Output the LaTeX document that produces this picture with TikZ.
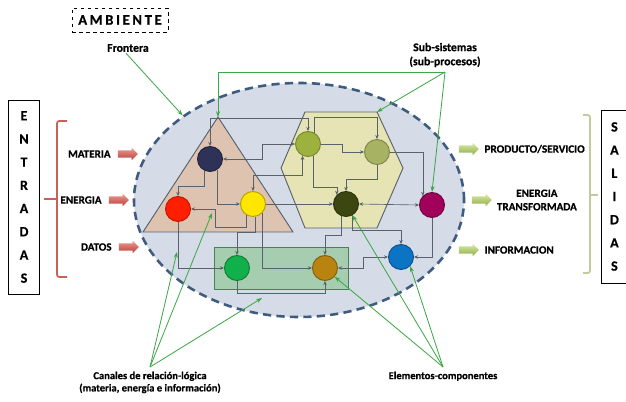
\documentclass[tikz,border=0pt]{standalone}
\usepackage{fontspec}
\setmainfont{Carlito}[BoldFeatures={FakeBold=0.6}]
\usetikzlibrary{positioning,shapes.geometric,shapes.arrows,arrows.meta}

\definecolor{wiregray}{HTML}{58626D}
\definecolor{bndblue}{HTML}{3F5C80}
\definecolor{sysfill}{HTML}{D5DCE7}
\definecolor{trifill}{HTML}{DEC3B0}
\definecolor{hexfill}{HTML}{E6E4B4}
\definecolor{boxfill}{HTML}{A6CDB0}
\definecolor{ptrgreen}{HTML}{3DA746}
\definecolor{bracered}{HTML}{C9605A}
\definecolor{braceolive}{HTML}{C5C99C}
\definecolor{inlight}{HTML}{EC9A93}
\definecolor{indark}{HTML}{B9403A}
\definecolor{outlight}{HTML}{DCE8AA}
\definecolor{outdark}{HTML}{8EAE44}
% component colours
\definecolor{cnavy}{HTML}{2E3258}
\definecolor{cred}{HTML}{FF1E00}
\definecolor{cyellow}{HTML}{FFE600}
\definecolor{clime}{HTML}{9CB13E}
\definecolor{csage}{HTML}{A7B262}
\definecolor{colive}{HTML}{3C4611}
\definecolor{cmagenta}{HTML}{A1005B}
\definecolor{cblue}{HTML}{0B74C4}
\definecolor{cgreen}{HTML}{10B04A}
\definecolor{cbrown}{HTML}{B8840F}

\begin{document}
\begin{tikzpicture}[x=0.03cm,y=-0.03cm,>={Stealth[length=3.5pt,width=3pt]},
	elem/.style={circle,draw,minimum size=0.75cm,inner sep=0pt,line width=0.8pt},
	wire/.style={draw=wiregray,line width=0.55pt},
	pointer/.style={draw=ptrgreen,line width=0.7pt,-{Stealth[length=5pt,width=3.5pt]}},
	lbl/.style={font=\bfseries\fontsize{9}{10.5}\selectfont,align=center,inner sep=1pt},
	inlbl/.style={font=\bfseries\fontsize{9.5}{11.5}\selectfont,align=center,inner sep=1pt},
	outlbl/.style={font=\bfseries\fontsize{9.5}{11.5}\selectfont,align=center,inner sep=1pt},
	biglbl/.style={font=\bfseries\fontsize{10}{12}\selectfont,align=center,inner sep=1pt},
	letters/.style={draw,line width=0.7pt,font=\bfseries\fontsize{12}{19.8}\selectfont,align=center},
	inarrow/.style={single arrow,single arrow head extend=0.075cm,minimum height=0.6cm,minimum width=0.36cm,inner sep=0.105cm,top color=inlight,bottom color=indark},
	outarrow/.style={single arrow,single arrow head extend=0.075cm,minimum height=0.6cm,minimum width=0.36cm,inner sep=0.105cm,top color=outlight,bottom color=outdark}]
	\useasboundingbox (0,0) rectangle (626,402);
	\clip (0,0) rectangle (626,402);

	% environment and system boundary
	\node[draw,dashed,line width=0.6pt,minimum width=2.88cm,minimum height=0.72cm,font=\bfseries\fontsize{12.5}{14}\selectfont\addfontfeature{LetterSpace=18}] (ambiente) at (120,20) {AMBIENTE};
	\node[biglbl] (frontera) at (128,48) {Frontera};
	\node[ellipse,fill=sysfill,draw=bndblue,line width=2.2pt,dash pattern=on 7pt off 4.5pt,minimum width=9.9cm,minimum height=7.02cm,inner sep=0pt] (sys) at (299,200) {};

	% sub-systems
	\coordinate (apex) at (218,117);
	\coordinate (hexTR) at (377,112);
	\filldraw[fill=trifill,draw=wiregray,line width=0.8pt] (apex) -- (143,232) -- (293,232) -- cycle;
	\filldraw[fill=hexfill,draw=wiregray,line width=0.8pt] (305,112) -- (hexTR) -- (403,168) -- (377,228) -- (305,228) -- (281,168) -- cycle;
	\filldraw[fill=boxfill,draw=wiregray!80!green,line width=0.8pt] (214,247) rectangle (348,289);

	% elements
	\node[elem,fill=cnavy,draw=cnavy!70!black] (n_navy) at (210,159) {};
	\node[elem,fill=cred,draw=cred!75!black] (n_red) at (178,209) {};
	\node[elem,fill=cyellow,draw=cyellow!70!black] (n_yel) at (253,204) {};
	\node[elem,fill=clime,draw=clime!75!black] (n_lg1) at (308,144) {};
	\node[elem,fill=csage,draw=csage!75!black] (n_lg2) at (377,152) {};
	\node[elem,fill=colive,draw=colive!70!black] (n_olv) at (346,204) {};
	\node[elem,fill=cmagenta,draw=cmagenta!70!black] (n_mag) at (432,205) {};
	\node[elem,fill=cblue,draw=cblue!70!black] (n_blu) at (401,257) {};
	\node[elem,fill=cgreen,draw=cgreen!70!black] (n_grn) at (237,268) {};
	\node[elem,fill=cbrown,draw=cbrown!70!black] (n_brn) at (325,268) {};

	% channels
	\draw[wire,<->] (n_lg1.north) |- (210,118) -- (n_navy.north);
	\draw[wire,<->] (n_lg1.west) -- (262,144) |- (n_navy.east);
	\draw[wire,->] (n_navy.-114) -- ++(0,15) -| (n_red.north);
	\draw[wire,->] (n_navy.-56) |- (n_yel.west);
	\draw[wire,->] (n_yel.-120) -- ++(0,12) -| (215,209) -- (n_red.east);
	\draw[wire,<->] (n_lg1.-115) -- ++(0,20) -| (n_yel.north);
	\draw[wire,->] (n_yel.-80) -- ++(0,16) -| (n_grn.north);
	\draw[wire,->] (n_yel.-45) |- (n_brn.west);
	\draw[wire,->] (n_red.south) |- (n_grn.west);
	\draw[wire,->] (n_grn.south) -- ++(0,12) -| (n_brn.south);
	\draw[wire,->] (n_lg1.60) -- ++(0,-15) -| (n_lg2.north);
	\draw[wire,->] (n_lg1.east) -- (342,144) |- (n_lg2.west);
	\draw[wire,->] (n_lg1.-65) -- ++(0,32) -| (n_olv.north west);
	\draw[wire,->] (n_lg2.south) -- ++(0,14) -| (n_olv.north);
	\draw[wire,->] (n_yel.east) -- (n_olv.west);
	\draw[wire,<->] (n_olv.east) -- (n_mag.west);
	\draw[wire,->] (n_lg2.east) -| (n_mag.north west);
	\draw[wire,->] (n_olv.-110) -- ++(0,19) -| (n_brn.north);
	\draw[wire,->] (n_olv.-60) -- ++(0,15) -| (n_blu.north);
	\draw[wire,<->] (n_brn.east) -- (363,268) |- (n_blu.west);
	\draw[wire,->] (n_mag.south) |- (n_blu.east);

	% inputs
	\node[letters,minimum width=0.93cm,minimum height=5.82cm] (entradas) at (24,197) {E\\N\\T\\R\\A\\D\\A\\S};
	\draw[bracered,line width=1.5pt,rounded corners=2pt] (67,121) -- (57,121) -- (57,277) -- (67,277);
	\draw[bracered,line width=1.5pt] (57,199) -- (44,199);
	\node[inlbl,anchor=east] (materia) at (112,154) {MATERIA};
	\node[inlbl,anchor=east] (energia) at (103,200) {ENERGIA};
	\node[inlbl,anchor=east] (datos) at (113,247) {DATOS};
	\node[inarrow,right=0.17cm of materia] (a_mat) {};
	\node[inarrow,right=0.17cm of energia] (a_ene) {};
	\node[inarrow,right=0.17cm of datos] (a_dat) {};

	% outputs
	\node[outarrow] (a_prod) at (467,149) {};
	\node[outarrow] (a_entr) at (480,200) {};
	\node[outarrow] (a_info) at (467,250) {};
	\node[outlbl,right=0.12cm of a_prod] (producto) {PRODUCTO/SERVICIO};
	\node[outlbl,right=0.1cm of a_entr] (energiat) {ENERGIA\\TRANSFORMADA};
	\node[outlbl,right=0.12cm of a_info] (informacion) {INFORMACION};
	\draw[braceolive,line width=1.5pt,rounded corners=2pt] (583,115) -- (590,115) -- (590,273) -- (583,273);
	\draw[braceolive,line width=1.5pt] (590,195) -- (598,195);
	\node[letters,anchor=west,minimum width=0.78cm,minimum height=5.19cm] (salidas) at (601,196.5) {S\\A\\L\\I\\D\\A\\S};

	% pointers
	\draw[pointer] (frontera.250) -- (sys.144);
	\node[biglbl] (subsys) at (445,55) {Sub-sistemas\\(sub-procesos)};
	\coordinate (subpt) at (445,72);
	\draw[pointer] (subpt) -- (218,72) -- (apex);
	\draw[pointer] (subpt) -- (hexTR);
	\draw[pointer] (subpt) -- (n_mag.north);

	\coordinate (canpt) at (150,367);
	\coordinate (ch_1) at (177,252);
	\coordinate (ch_2) at (212,213);
	\coordinate (ch_3) at (262,298);
	\node[lbl,below=0.1cm of canpt] (canales) {Canales de relación-lógica\\(materia, energía e información)};
	\foreach \c in {ch_1,ch_2,ch_3}
		\draw[pointer] (canpt) -- (\c);

	\coordinate (elempt) at (443,367);
	\node[lbl,below=0.1cm of elempt] (elementos) {Elementos-componentes};
	\foreach \n/\a in {n_brn/-42,n_olv/-60,n_blu/-45}
		\draw[pointer] (elempt) -- (\n.\a);
\end{tikzpicture}
\end{document}
